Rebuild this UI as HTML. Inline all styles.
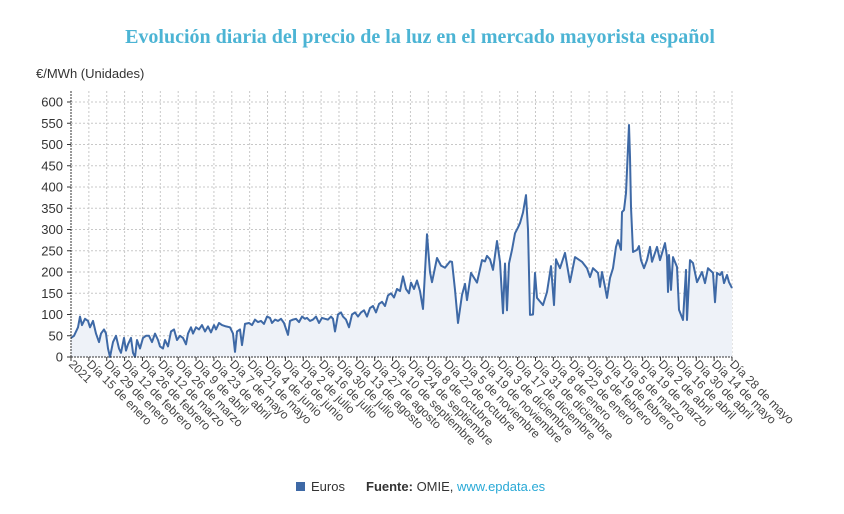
<!DOCTYPE html>
<html><head><meta charset="utf-8"><style>
body{margin:0;background:#fff;width:844px;height:509px;overflow:hidden;font-family:"Liberation Sans",sans-serif}
</style></head><body>
<svg id="s" width="844" height="509" xmlns="http://www.w3.org/2000/svg" font-family="Liberation Sans, sans-serif">
<text x="420" y="43" text-anchor="middle" font-family="Liberation Serif, serif" font-weight="bold" font-size="20" fill="#4cb4d4">Evolución diaria del precio de la luz en el mercado mayorista español</text>
<text x="36" y="78" font-size="13" fill="#333">€/MWh (Unidades)</text>
<g id="grid"></g>
<path id="area" fill="#eef2f8" stroke="none"/>
<path id="line" fill="none" stroke="#3e69a6" stroke-width="2" stroke-linejoin="round"/>
<g id="axes"></g>
<rect x="296" y="482" width="9" height="9" fill="#3e69a6"/>
<text x="311" y="491" font-size="13" fill="#333">Euros</text>
<text x="366" y="491" font-size="13" fill="#333"><tspan font-weight="bold">Fuente:</tspan> OMIE, <tspan fill="#29a9d6">www.epdata.es</tspan></text>
</svg>
<script>
const NS="http://www.w3.org/2000/svg";
const x0=71,x1=732,yb=357,yt=91,k=0.425;
const Y=v=>yb-v*k;
let g=document.getElementById('grid'),ax=document.getElementById('axes');
function el(p,t,a,txt){const e=document.createElementNS(NS,t);for(const n in a)e.setAttribute(n,a[n]);if(txt!==undefined)e.textContent=String(txt);p.appendChild(e);return e;}
for(let v=50;v<=600;v+=50)el(g,'line',{x1:x0,x2:x1,y1:Y(v),y2:Y(v),stroke:'#c8c8c8','stroke-dasharray':'2,2'});
const labs=["2021","Día 15 de enero","Día 29 de enero","Día 12 de febrero","Día 26 de febrero","Día 12 de marzo","Día 26 de marzo","Día 9 de abril","Día 23 de abril","Día 7 de mayo","Día 21 de mayo","Día 4 de junio","Día 18 de junio","Día 2 de julio","Día 16 de julio","Día 30 de julio","Día 13 de agosto","Día 27 de agosto","Día 10 de septiembre","Día 24 de septiembre","Día 8 de octubre","Día 22 de octubre","Día 5 de noviembre","Día 19 de noviembre","Día 3 de diciembre","Día 17 de diciembre","Día 31 de diciembre","Día 8 de enero","Día 22 de enero","Día 5 de febrero","Día 19 de febrero","Día 5 de marzo","Día 19 de marzo","Día 2 de abril","Día 16 de abril","Día 30 de abril","Día 14 de mayo","Día 28 de mayo"];
const step=(x1-x0)/(labs.length-1);
labs.forEach((l,i)=>{const x=x0+i*step;
 if(i>0)el(g,'line',{x1:x,x2:x,y1:yt,y2:yb,stroke:'#c8c8c8','stroke-dasharray':'2,2'});
 el(ax,'line',{x1:x,x2:x,y1:yb,y2:yb+4,stroke:'#333'});
 const tx=x,ty=yb+9;
 el(ax,'text',{x:tx,y:ty,'font-size':12,fill:'#444',transform:`rotate(45 ${tx} ${ty-4})`},l);
});
el(ax,'line',{x1:x0,x2:x0,y1:yt,y2:yb,stroke:'#333','stroke-dasharray':'2,1'});
el(ax,'line',{x1:x0,x2:x1,y1:yb,y2:yb,stroke:'#333','stroke-dasharray':'2,1'});
for(let v=0;v<=600;v+=50){el(ax,'line',{x1:x0-4,x2:x0,y1:Y(v),y2:Y(v),stroke:'#333'});
 el(ax,'text',{x:x0-8,y:Y(v)+4.5,'font-size':13,fill:'#333','text-anchor':'end'},v);}
const d=[[71,45],[74,50],[78,70],[80,95],[82,75],[85,90],[88,85],[90,70],[93,85],[96,55],[99,35],[101,55],[104,65],[106,55],[108,20],[110,0],[113,35],[116,50],[119,20],[121,10],[124,45],[126,15],[128,30],[131,45],[133,10],[135,0],[137,40],[140,20],[143,45],[146,50],[149,50],[152,35],[155,55],[158,40],[160,25],[163,20],[165,40],[168,25],[171,60],[174,65],[177,40],[180,50],[183,45],[186,30],[188,55],[191,70],[193,55],[196,70],[199,65],[202,75],[205,60],[208,72],[211,58],[214,75],[216,65],[219,80],[222,75],[226,72],[230,70],[233,55],[235,12],[237,60],[240,65],[242,28],[245,78],[249,80],[252,75],[255,88],[258,82],[261,85],[264,78],[267,95],[270,92],[272,80],[275,88],[278,85],[281,90],[284,80],[288,52],[290,85],[293,88],[296,90],[299,82],[302,95],[305,90],[307,92],[310,85],[313,88],[316,95],[319,80],[322,92],[325,90],[328,88],[331,95],[333,90],[335,60],[338,100],[341,105],[343,95],[346,88],[349,70],[352,100],[355,105],[358,95],[361,105],[364,110],[367,95],[370,115],[373,120],[376,105],[379,125],[382,130],[385,120],[388,145],[391,150],[394,140],[397,160],[400,155],[403,190],[406,160],[409,150],[411,175],[414,160],[417,180],[420,155],[423,113],[425,200],[427,289],[430,200],[432,176],[437,233],[441,215],[445,210],[450,225],[452,224],[455,158],[458,80],[462,146],[465,172],[467,134],[471,198],[477,175],[482,228],[485,225],[487,238],[490,230],[493,205],[497,273],[500,224],[503,103],[505,220],[507,110],[509,220],[512,252],[515,291],[518,305],[520,315],[523,340],[526,381],[528,300],[530,99],[533,100],[535,198],[537,139],[543,122],[547,153],[551,214],[554,122],[556,230],[557,224],[560,209],[565,245],[570,176],[575,235],[582,224],[587,209],[590,188],[593,209],[598,198],[600,165],[602,200],[605,165],[607,139],[610,186],[613,209],[616,259],[618,275],[621,252],[622,341],[624,346],[626,386],[629,546],[630,471],[631,353],[633,247],[637,252],[639,261],[641,228],[644,209],[647,228],[650,259],[652,224],[657,259],[660,228],[665,268],[667,235],[668,153],[669,240],[671,158],[673,235],[677,212],[679,111],[683,87],[686,205],[687,87],[690,228],[693,221],[697,176],[702,200],[705,174],[708,209],[713,198],[715,129],[717,198],[720,193],[722,200],[724,174],[727,193],[729,176],[732,162]];
let p=d.map((q,i)=>(i?'L':'M')+q[0]+','+Y(q[1]).toFixed(1)).join('');
document.getElementById('line').setAttribute('d',p);
document.getElementById('area').setAttribute('d',p+`L${x1},${yb}L${x0},${yb}Z`);
</script>
</body></html>
